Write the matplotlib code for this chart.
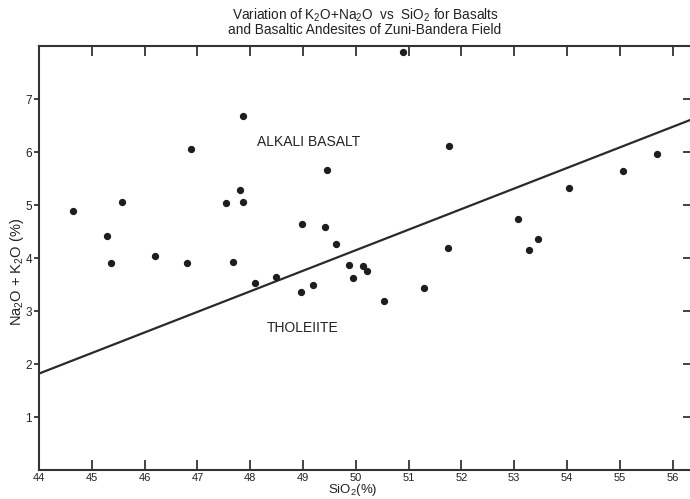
"""
Variation of K2O+Na2O vs SiO2 for basalts and basaltic andesites (Zuni-Bandera field).
"""

import matplotlib.pyplot as plt

plt.rcParams["font.family"] = ["Liberation Sans", "DejaVu Sans"]
plt.rcParams["mathtext.fontset"] = "custom"
plt.rcParams["mathtext.rm"] = "Liberation Sans"
plt.rcParams["mathtext.it"] = "Liberation Sans:italic"

# Analyses (SiO2 %, Na2O + K2O %)
sio2 = [44.64, 45.29, 45.36, 45.58, 46.20, 46.88, 46.81, 47.55, 47.68, 47.81,
        47.86, 47.86, 48.10, 48.49, 48.98, 48.97, 49.19, 49.41, 49.63, 49.45,
        49.87, 49.94, 50.13, 50.22, 50.54, 51.29, 51.74, 53.08, 53.28, 53.45,
        50.89, 51.76, 55.70, 55.07, 54.03]
alkali = [4.89, 4.42, 3.91, 5.06, 4.04, 6.06, 3.91, 5.03, 3.93, 5.28,
          5.06, 6.68, 3.53, 3.65, 4.64, 3.36, 3.49, 4.59, 4.26, 5.66,
          3.86, 3.63, 3.85, 3.75, 3.19, 3.43, 4.19, 4.73, 4.15, 4.35,
          7.88, 6.11, 5.97, 5.65, 5.33]

# Dividing line between alkali basalt and tholeiite
line_x = [44.0, 56.4]
line_y = [1.82, 6.63]

x_ticks = list(range(44, 57))
y_ticks = list(range(1, 8))

fig = plt.figure(figsize=(6.9, 4.99), dpi=100)
ax = fig.add_axes([0.0565, 0.058, 0.9435, 0.8498])

ax.plot(line_x, line_y, color="#2a2a2a", linewidth=1.6)
ax.scatter(sio2, alkali, s=18, color="#1e1e1e", zorder=3)

ax.text(49.1, 6.19, "ALKALI BASALT", ha="center", va="center", fontsize=10, color="#222222")
ax.text(49.0, 2.68, "THOLEIITE", ha="center", va="center", fontsize=10, color="#222222")

ax.set_xlim(44, 56.33)
ax.set_ylim(0, 8.0)

ax.set_xticks(x_ticks)
ax.set_yticks(y_ticks)
ax.tick_params(axis="x", direction="in", length=7, width=1.2, top=True, pad=2,
               labelsize=8, colors="#222222")
ax.tick_params(axis="y", direction="out", length=3.5, width=1.2, pad=1.5,
               labelsize=8.5, colors="#222222")
ax.yaxis.set_tick_params(which="major", right=True)
for t in ax.yaxis.get_major_ticks():
    t.tick2line.set_marker(0)  # inward tick on the right side
    t.tick2line.set_markersize(5)

for side in ["left", "bottom", "top"]:
    ax.spines[side].set_linewidth(1.5)
    ax.spines[side].set_color("#333333")
ax.spines["right"].set_visible(False)

fig.text(0.529, 0.969, r"Variation of $\mathregular{K_2O}$+$\mathregular{Na_2O}$  vs  $\mathregular{SiO_2}$ for Basalts",
         ha="center", va="center", fontsize=9.8, color="#222222")
fig.text(0.529, 0.939, "and Basaltic Andesites of Zuni-Bandera Field",
         ha="center", va="center", fontsize=9.8, color="#222222")

fig.text(17 / 690, 1 - 272 / 499, r"$\mathregular{Na_2O}$ + $\mathregular{K_2O}$ (%)",
         rotation=90, ha="center", va="center", fontsize=10.5, color="#222222")
fig.text(353 / 690, 1 - 490 / 499, r"$\mathregular{SiO_2}$(%)",
         ha="center", va="center", fontsize=9.5, color="#222222")

plt.savefig("out.png", dpi=100)
